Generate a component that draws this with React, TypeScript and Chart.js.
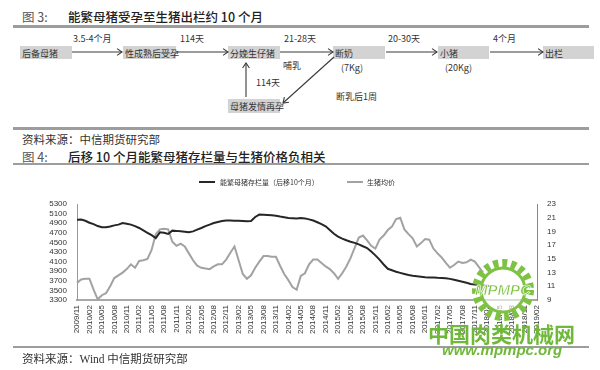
import React, { useEffect, useRef } from "react";
import { Chart, registerables } from "chart.js";

Chart.register(...registerables);

// ---------- data ----------
const months: string[] = [
  "2009/11", "2009/12",
  "2010/01", "2010/02", "2010/03", "2010/04", "2010/05", "2010/06", "2010/07", "2010/08", "2010/09", "2010/10", "2010/11", "2010/12",
  "2011/01", "2011/02", "2011/03", "2011/04", "2011/05", "2011/06", "2011/07", "2011/08", "2011/09", "2011/10", "2011/11", "2011/12",
  "2012/01", "2012/02", "2012/03", "2012/04", "2012/05", "2012/06", "2012/07", "2012/08", "2012/09", "2012/10", "2012/11", "2012/12",
  "2013/01", "2013/02", "2013/03", "2013/04", "2013/05", "2013/06", "2013/07", "2013/08", "2013/09", "2013/10", "2013/11", "2013/12",
  "2014/01", "2014/02", "2014/03", "2014/04", "2014/05", "2014/06", "2014/07", "2014/08", "2014/09", "2014/10", "2014/11", "2014/12",
  "2015/01", "2015/02", "2015/03", "2015/04", "2015/05", "2015/06", "2015/07", "2015/08", "2015/09", "2015/10", "2015/11", "2015/12",
  "2016/01", "2016/02", "2016/03", "2016/04", "2016/05", "2016/06", "2016/07", "2016/08", "2016/09", "2016/10", "2016/11", "2016/12",
  "2017/01", "2017/02", "2017/03", "2017/04", "2017/05", "2017/06", "2017/07", "2017/08", "2017/09", "2017/10", "2017/11", "2017/12",
  "2018/01", "2018/02", "2018/03", "2018/04", "2018/05", "2018/06", "2018/07", "2018/08", "2018/09", "2018/10", "2018/11", "2018/12",
  "2019/01", "2019/02",
];

// 能繁母猪存栏量（后移10个月）, 万头
const sowStock: number[] = [
  4970, 4975, 4950, 4910, 4880, 4840, 4815, 4815, 4830, 4855,
  4870, 4905, 4890, 4870, 4840, 4800, 4750, 4700, 4650, 4590,
  4710, 4700, 4675, 4745, 4740, 4730, 4720, 4710, 4730, 4765,
  4800, 4840, 4870, 4905, 4925, 4945, 4955, 4955, 4950, 4950,
  4945, 4940, 4945, 5030, 5080, 5075, 5070, 5065, 5057, 5040,
  5025, 5010, 5005, 5000, 5008, 5000, 4980, 4955, 4920, 4880,
  4835, 4760, 4680, 4620, 4580, 4545, 4515, 4490, 4460, 4420,
  4383, 4310, 4230, 4140, 4040, 3950, 3920, 3890, 3865, 3842,
  3820, 3805, 3795, 3785, 3775, 3770, 3768, 3763, 3760, 3755,
  3740, 3720, 3700, 3680, 3660, 3635, 3625, 3615, 3605, 3595,
  3585,
];

// 生猪均价, 元/公斤
const hogPrice: number[] = [
  11.5, 12.0, 12.1, 12.1, 10.5, 9.1, 9.7, 10.0, 11.0, 12.2,
  12.6, 13.0, 13.5, 14.2, 13.7, 14.7, 14.8, 15.0, 16.3, 18.6,
  19.3, 19.4, 19.3, 17.5, 16.9, 17.2, 16.8, 15.8, 14.8, 14.0,
  13.7, 13.6, 13.5, 13.9, 14.2, 14.2, 14.9, 15.9, 16.8, 14.8,
  12.8, 12.1, 12.6, 13.7, 14.6, 15.4, 15.4, 15.3, 15.3, 14.0,
  12.8, 11.9, 10.9, 10.5, 12.5, 12.9, 14.2, 14.9, 14.9, 14.4,
  13.9, 13.5, 12.9, 12.1, 12.9, 13.9, 15.1, 16.6, 18.1, 18.4,
  17.7, 16.9, 16.5, 17.8, 18.4, 19.2, 19.7, 20.8, 21.0, 19.3,
  18.6, 18.0, 16.8, 17.3, 17.9, 17.8, 16.5, 15.8, 15.2, 14.4,
  13.7, 14.1, 14.6, 14.4, 14.5, 14.9, 14.6, 13.8, 13.0,
];

const seriesNames = ["能繁母猪存栏量（后移10个月）", "生猪均价"];
const leftAxis = { min: 3300, max: 5300, step: 200 };
const rightAxis = { min: 9, max: 23, step: 2 };

// ---------- flowchart layout ----------
const CJK = '"Noto Sans CJK SC", "Noto Sans", sans-serif';
const boxes = [
  { x: 20, y: 46, w: 52, h: 13, t: "后备母猪" },
  { x: 123, y: 46, w: 53, h: 13, t: "性成熟后受孕" },
  { x: 228, y: 46, w: 52, h: 13, t: "分娩生仔猪" },
  { x: 333, y: 46, w: 52, h: 13, t: "断奶" },
  { x: 438, y: 46, w: 51, h: 13, t: "小猪" },
  { x: 543, y: 46, w: 51, h: 13, t: "出栏" },
  { x: 228, y: 99, w: 52, h: 14, t: "母猪发情再孕" },
];
const arrows = [
  { x1: 72, y1: 52, x2: 122, y2: 52 },
  { x1: 176, y1: 52, x2: 228, y2: 52 },
  { x1: 280, y1: 52, x2: 333, y2: 52 },
  { x1: 386, y1: 52, x2: 437, y2: 52 },
  { x1: 490, y1: 52, x2: 543, y2: 52 },
  { x1: 246, y1: 97, x2: 246, y2: 63 },
  { x1: 334, y1: 57, x2: 283, y2: 103 },
];
const notes = [
  { x: 73, y: 38, t: "3.5-4个月" },
  { x: 180, y: 38, t: "114天" },
  { x: 284, y: 38, t: "21-28天" },
  { x: 388, y: 38, t: "20-30天" },
  { x: 493, y: 38, t: "4个月" },
  { x: 341, y: 67, t: "(7Kg)" },
  { x: 445, y: 67, t: "(20Kg)" },
  { x: 283, y: 65, t: "哺乳" },
  { x: 256, y: 82, t: "114天" },
  { x: 336, y: 96, t: "断乳后1周" },
];

function head(a: { x1: number; y1: number; x2: number; y2: number }) {
  const ang = Math.atan2(a.y2 - a.y1, a.x2 - a.x1);
  const L = 6;
  const s = 0.6;
  const p1 = [a.x2 - L * Math.cos(ang - s), a.y2 - L * Math.sin(ang - s)];
  const p2 = [a.x2 - L * Math.cos(ang + s), a.y2 - L * Math.sin(ang + s)];
  return `${p1[0]},${p1[1]} ${a.x2},${a.y2} ${p2[0]},${p2[1]}`;
}

function Flow() {
  return (
    <svg width={600} height={125} style={{ position: "absolute", left: 0, top: 0 }}>
      {boxes.map((b, i) => (
        <g key={i}>
          <rect x={b.x} y={b.y} width={b.w} height={b.h} fill="#d3d3d3" />
          <text x={b.x + 2} y={b.y + b.h / 2 + 0.5} fontSize={9} fill="#333" fontFamily={CJK} dominantBaseline="central">
            {b.t}
          </text>
        </g>
      ))}
      {arrows.map((a, i) => (
        <g key={i} stroke="#3a3a3a" strokeWidth={1.1} fill="none">
          <line x1={a.x1} y1={a.y1} x2={a.x2} y2={a.y2} />
          <polyline points={head(a)} />
        </g>
      ))}
      {notes.map((n, i) => (
        <text key={i} x={n.x} y={n.y} fontSize={9} fill="#333" fontFamily={CJK} dominantBaseline="central">
          {n.t}
        </text>
      ))}
    </svg>
  );
}

function Rule({ top, h }: { top: number; h: number }) {
  return <div style={{ position: "absolute", left: 13, top, width: 576, height: h, background: "#9d9d9d" }} />;
}

function TextAt({ x, y, size, children, color = "#333", weight = 400, family = CJK }: any) {
  return (
    <div
      style={{
        position: "absolute",
        left: x,
        top: y - 10,
        height: 20,
        lineHeight: "20px",
        fontSize: size,
        color,
        fontWeight: weight,
        fontFamily: family,
        whiteSpace: "pre",
      }}
    >
      {children}
    </div>
  );
}

export default function App() {
  const ref = useRef<HTMLCanvasElement | null>(null);

  useEffect(() => {
    if (!ref.current) return;
    const tickFont = { family: '"Liberation Sans", Arial, sans-serif', size: 8 };
    const chart = new Chart(ref.current, {
      type: "line",
      data: {
        labels: months,
        datasets: [
          {
            label: seriesNames[0],
            data: sowStock,
            yAxisID: "y",
            borderColor: "#262626",
            borderWidth: 2,
            pointRadius: 0,
            tension: 0,
            fill: false,
          },
          {
            label: seriesNames[1],
            data: hogPrice,
            yAxisID: "y1",
            borderColor: "#a2a2a2",
            borderWidth: 2,
            pointRadius: 0,
            tension: 0,
            fill: false,
          },
        ],
      },
      options: {
        animation: false,
        responsive: false,
        layout: { padding: { top: 32, left: 0, right: 0, bottom: 0 } },
        plugins: { legend: { display: false }, tooltip: { enabled: false } },
        scales: {
          x: {
            type: "category",
            grid: { drawOnChartArea: false, drawTicks: false },
            border: { color: "#a8a8a8", width: 2 },
            ticks: {
              autoSkip: false,
              maxRotation: 90,
              minRotation: 90,
              padding: 5,
              color: "#333",
              font: tickFont,
              callback: function (this: any, v: any, i: number) {
                return i % 3 === 0 ? this.getLabelForValue(v) : null;
              },
            },
            afterFit: (s: any) => {
              s.height = 47;
            },
          },
          y: {
            position: "left",
            min: leftAxis.min,
            max: leftAxis.max,
            grid: { drawOnChartArea: false, drawTicks: false },
            border: { color: "#999", width: 1 },
            ticks: {
              stepSize: leftAxis.step,
              autoSkip: false,
              padding: 10,
              color: "#333",
              font: tickFont,
              callback: (v: any) => String(v),
            },
            afterFit: (s: any) => {
              s.width = 77;
            },
          },
          y1: {
            position: "right",
            min: rightAxis.min,
            max: rightAxis.max,
            grid: { drawOnChartArea: false, drawTicks: false },
            border: { color: "#888", width: 1 },
            ticks: {
              stepSize: rightAxis.step,
              autoSkip: false,
              padding: 10,
              color: "#333",
              font: tickFont,
              callback: (v: any) => String(v),
            },
            afterFit: (s: any) => {
              s.width = 63;
            },
          },
        },
      },
    } as any);
    return () => chart.destroy();
  }, []);

  return (
    <div style={{ position: "absolute", left: 0, top: 0, width: 600, height: 370, background: "#fff", overflow: "hidden" }}>
      <TextAt x={22} y={17} size={12.5} color="#555">图 3:</TextAt>
      <TextAt x={68} y={17} size={12.5} color="#222" weight={500}>能繁母猪受孕至生猪出栏约 10 个月</TextAt>
      <Rule top={25} h={3} />
      <Flow />
      <Rule top={127} h={3} />
      <TextAt x={22} y={139} size={11.5}>资料来源：中信期货研究部</TextAt>
      <TextAt x={22} y={157} size={12.5} color="#555">图 4:</TextAt>
      <TextAt x={68} y={157} size={12.5} color="#222" weight={500}>后移 10 个月能繁母猪存栏量与生猪价格负相关</TextAt>
      <Rule top={163} h={2} />

      <canvas ref={ref} width={600} height={175} style={{ position: "absolute", left: 0, top: 172, width: 600, height: 175 }} />

      {/* legend */}
      <div style={{ position: "absolute", left: 199, top: 181, width: 16, height: 1.5, background: "#262626" }} />
      <TextAt x={220} y={182} size={7}>{seriesNames[0]}</TextAt>
      <div style={{ position: "absolute", left: 347, top: 181, width: 16, height: 1.5, background: "#a2a2a2" }} />
      <TextAt x={367} y={182} size={7}>{seriesNames[1]}</TextAt>

      <Rule top={346} h={2} />
      <TextAt x={22} y={358} size={11.5}>
        资料来源：<span style={{ fontFamily: '"Liberation Serif", serif' }}>Wind</span> 中信期货研究部
      </TextAt>

      {/* watermark */}
      <svg width={80} height={80} style={{ position: "absolute", left: 463, top: 250 }}>
        <circle cx={40} cy={40} r={27} fill="none" stroke="#7dc242" strokeWidth={8} strokeDasharray="5 4" />
        <circle cx={40} cy={40} r={22} fill="rgba(255,255,255,0.6)" stroke="#7dc242" strokeWidth={3} />
        <text x={40} y={45} textAnchor="middle" fontSize={15} fontStyle="italic" fontWeight={700} fill="#7dc242" stroke="#fff" strokeWidth={0.6} fontFamily='"Liberation Sans", Arial'>
          MPMPC
        </text>
      </svg>
      <TextAt x={428} y={333} size={21} color="#6fb83a" weight={700}>中国肉类机械网</TextAt>
      <div
        style={{
          position: "absolute",
          left: 442,
          top: 341,
          fontSize: 15,
          lineHeight: "18px",
          fontStyle: "italic",
          fontWeight: 700,
          color: "#6fb83a",
          fontFamily: '"Liberation Sans", Arial, sans-serif',
        }}
      >
        www.mpmpc.org
      </div>
    </div>
  );
}
